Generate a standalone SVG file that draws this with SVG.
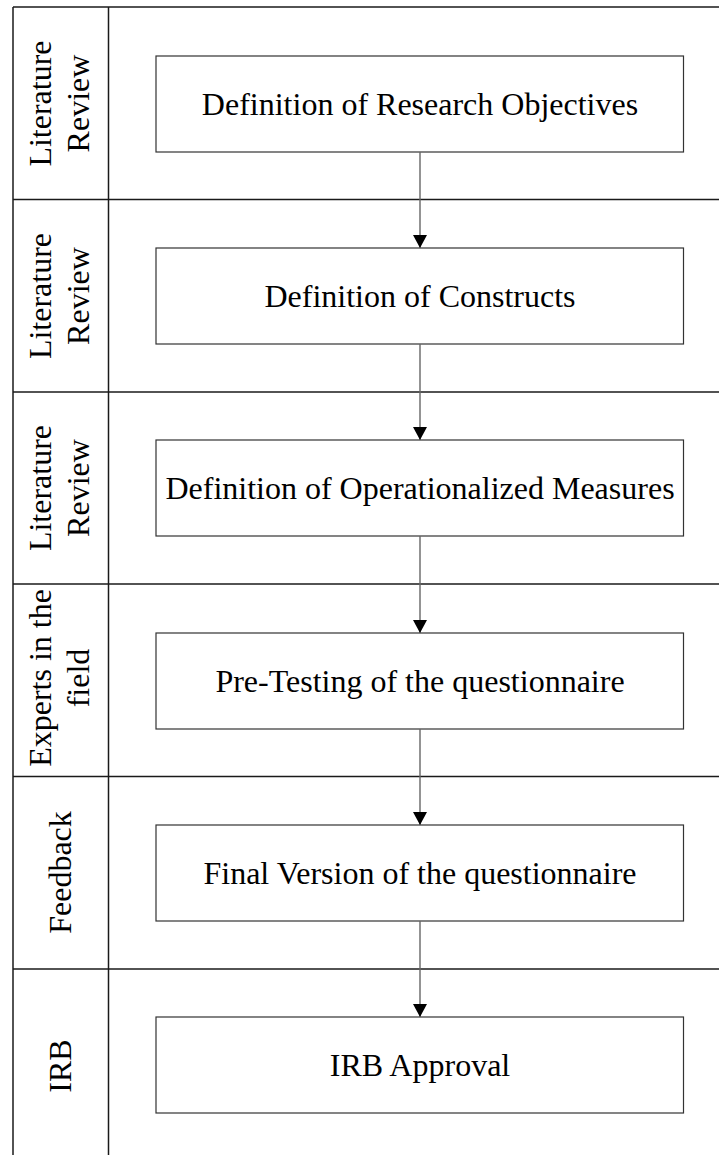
<svg xmlns="http://www.w3.org/2000/svg" width="719" height="1155" viewBox="0 0 719 1155">
  <style>
    .frame { stroke: #1a1a1a; stroke-width: 1.5; fill: none; }
    .box { fill: #ffffff; stroke: #333333; stroke-width: 1.2; }
    .label { font-family: "Liberation Serif", "Times New Roman", serif; font-size: 32px; fill: #000000; text-anchor: middle; }
    .flow { stroke: #666666; stroke-width: 1.4; fill: none; marker-end: url(#arrow); }
  </style>
  <defs>
    <marker id="arrow" markerUnits="userSpaceOnUse" markerWidth="14" markerHeight="14" refX="13" refY="7" orient="auto">
      <path d="M0,0 L13,7 L0,14 Z" fill="#000000"/>
    </marker>
  </defs>
  <rect width="719" height="1155" fill="#ffffff"/>

  <!-- swimlane frame -->
  <g id="lanes" class="frame">
    <line x1="13" y1="7" x2="719" y2="7"/>
    <line x1="13" y1="7" x2="13" y2="1155"/>
    <line x1="108.5" y1="7" x2="108.5" y2="1155"/>
    <line x1="13" y1="199.5" x2="719" y2="199.5"/>
    <line x1="13" y1="392" x2="719" y2="392"/>
    <line x1="13" y1="584" x2="719" y2="584"/>
    <line x1="13" y1="776.5" x2="719" y2="776.5"/>
    <line x1="13" y1="969" x2="719" y2="969"/>
  </g>

  <!-- lane headers -->
  <g id="lane1-label" class="label">
    <text transform="translate(0,103.5) rotate(-90)"><tspan x="0" y="51">Literature</tspan><tspan x="0" y="88.5">Review</tspan></text>
  </g>
  <g id="lane2-label" class="label">
    <text transform="translate(0,296) rotate(-90)"><tspan x="0" y="51">Literature</tspan><tspan x="0" y="88.5">Review</tspan></text>
  </g>
  <g id="lane3-label" class="label">
    <text transform="translate(0,488) rotate(-90)"><tspan x="0" y="51">Literature</tspan><tspan x="0" y="88.5">Review</tspan></text>
  </g>
  <g id="lane4-label" class="label">
    <text transform="translate(0,678) rotate(-90)"><tspan x="0" y="51">Experts in the</tspan><tspan x="0" y="88.5">field</tspan></text>
  </g>
  <g id="lane5-label" class="label">
    <text transform="translate(0,872.5) rotate(-90)" x="0" y="71">Feedback</text>
  </g>
  <g id="lane6-label" class="label">
    <text transform="translate(0,1066) rotate(-90)" x="0" y="71">IRB</text>
  </g>

  <!-- process steps -->
  <g id="step-objectives">
    <rect class="box" x="156" y="56" width="527.5" height="96"/>
    <text class="label" x="420" y="115">Definition of Research Objectives</text>
  </g>
  <g id="step-constructs">
    <rect class="box" x="156" y="248" width="527.5" height="96"/>
    <text class="label" x="420" y="307">Definition of Constructs</text>
  </g>
  <g id="step-measures">
    <rect class="box" x="156" y="440" width="527.5" height="96"/>
    <text class="label" x="420" y="499">Definition of Operationalized Measures</text>
  </g>
  <g id="step-pretest">
    <rect class="box" x="156" y="633" width="527.5" height="96"/>
    <text class="label" x="420" y="692">Pre-Testing of the questionnaire</text>
  </g>
  <g id="step-final">
    <rect class="box" x="156" y="825" width="527.5" height="96"/>
    <text class="label" x="420" y="884">Final Version of the questionnaire</text>
  </g>
  <g id="step-irb">
    <rect class="box" x="156" y="1017" width="527.5" height="96"/>
    <text class="label" x="420" y="1076">IRB Approval</text>
  </g>

  <!-- connectors -->
  <g id="connectors">
    <line class="flow" x1="420" y1="152" x2="420" y2="248"/>
    <line class="flow" x1="420" y1="344" x2="420" y2="440"/>
    <line class="flow" x1="420" y1="536" x2="420" y2="633"/>
    <line class="flow" x1="420" y1="729" x2="420" y2="825"/>
    <line class="flow" x1="420" y1="921" x2="420" y2="1017"/>
  </g>
</svg>
